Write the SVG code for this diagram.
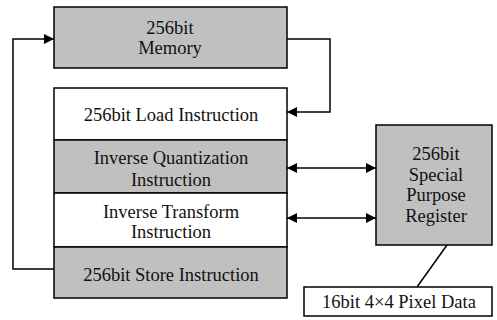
<svg xmlns="http://www.w3.org/2000/svg" width="497" height="320" viewBox="0 0 497 320">
<style>
.box{stroke:#000;stroke-width:1.5}
.g{fill:#c0c0c0}
.w{fill:#fff}
.t{font-family:"Liberation Serif","DejaVu Serif",serif;font-size:18.5px;fill:#111;text-anchor:middle}
.c{fill:none;stroke:#000;stroke-width:1.5}
</style>
<defs>
<marker id="ah" viewBox="0 0 10 10" refX="10" refY="5" markerWidth="11" markerHeight="10" markerUnits="userSpaceOnUse" orient="auto-start-reverse">
<path d="M0,0 L10,5 L0,10 Z" fill="#000"/>
</marker>
</defs>
<rect width="497" height="320" fill="#fff"/>
<g id="memory">
<rect class="box g" x="54" y="7" width="233" height="61"/>
<text class="t" x="170" y="34">256bit</text>
<text class="t" x="170" y="54">Memory</text>
</g>
<g id="load">
<rect class="box w" x="54" y="88" width="233" height="52"/>
<text class="t" x="171" y="121">256bit Load Instruction</text>
</g>
<g id="iq">
<rect class="box g" x="54" y="140" width="233" height="53"/>
<text class="t" x="171" y="164">Inverse Quantization</text>
<text class="t" x="171" y="186">Instruction</text>
</g>
<g id="it">
<rect class="box w" x="54" y="193" width="233" height="54"/>
<text class="t" x="171" y="218">Inverse Transform</text>
<text class="t" x="171" y="238">Instruction</text>
</g>
<g id="store">
<rect class="box g" x="54" y="247" width="233" height="51"/>
<text class="t" x="171" y="281">256bit Store Instruction</text>
</g>
<g id="register">
<rect class="box g" x="376" y="125" width="116" height="120"/>
<text class="t" x="436" y="160">256bit</text>
<text class="t" x="436" y="181">Special</text>
<text class="t" x="436" y="201">Purpose</text>
<text class="t" x="436" y="222">Register</text>
</g>
<g id="pixel">
<rect class="box w" x="304" y="287" width="188" height="29"/>
<text class="t" x="399" y="308">16bit 4×4 Pixel Data</text>
</g>
<g id="connectors">
<path class="c" d="M54,269 H13 V39 H54" marker-end="url(#ah)"/>
<path class="c" d="M287,39 H330 V112 H287" marker-end="url(#ah)"/>
<path class="c" d="M287,168 H376" marker-start="url(#ah)" marker-end="url(#ah)"/>
<path class="c" d="M287,218 H376" marker-start="url(#ah)" marker-end="url(#ah)"/>
<path class="c" d="M447,245 L417,287"/>
</g>
</svg>
